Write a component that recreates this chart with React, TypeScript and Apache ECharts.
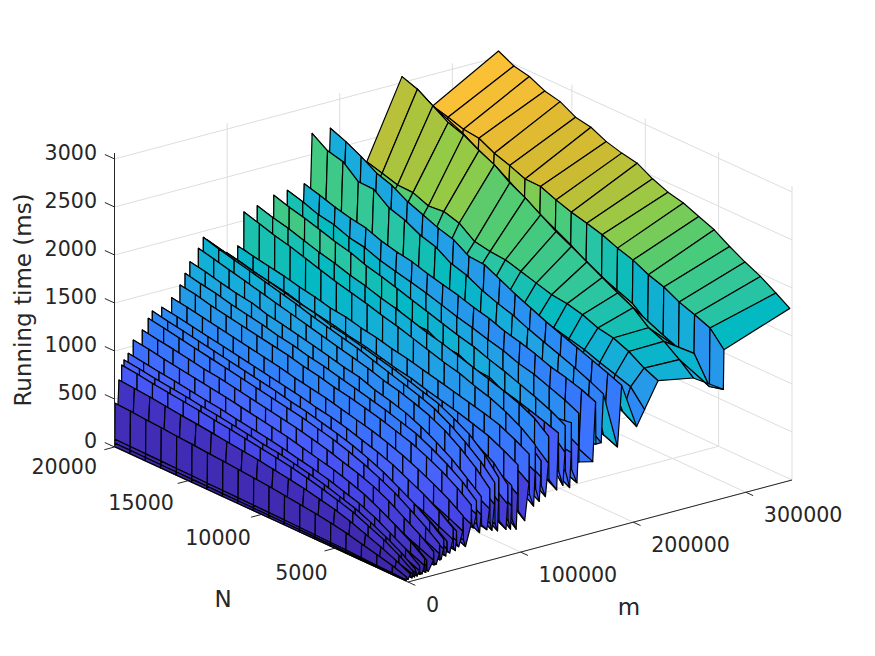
import React, { useEffect, useRef } from "react";
import * as echarts from "echarts";

const M_MAX = 341000;
const N_MAX = 20000;
const Z_MAX = 3062;

const mTicks = [0, 100000, 200000, 300000];
const nTicks = [5000, 10000, 15000, 20000];
const zTicks = [0, 500, 1000, 1500, 2000, 2500, 3000];

const nValues = [20000, 18950, 17900, 16850, 15800, 14750, 13700, 12650, 11600, 10550, 9500, 8450, 7400, 6350, 5300, 4250, 3200, 2150, 1100, 150];

// Each row: m, then the running time (ms) at every value of nValues.
const surfaceRows: number[][] = [
  [341000, 3062, 2980, 2944, 2868, 2830, 2742, 2711, 2635, 2589, 2558, 2469, 2404, 2365, 2298, 2233, 2133, 2045, 1969, 1870, 1777],
  [282500, 2672, 2628, 2577, 2557, 2475, 2420, 2354, 2349, 2284, 2230, 2188, 2142, 2077, 2026, 1947, 1893, 1810, 1752, 1688, 1528],
  [282000, 2670, 2585, 2535, 2437, 2355, 2253, 2154, 2054, 1954, 1890, 1788, 1692, 1627, 1576, 1447, 1393, 1330, 1352, 1080, 1118],
  [255300, 3062, 3005, 2905, 2805, 2750, 2660, 2586, 2473, 2390, 2287, 2187, 2105, 2017, 1930, 1842, 1762, 1628, 1560, 1443, 1319],
  [224000, 2274, 2227, 2179, 2173, 2108, 2123, 2076, 1958, 1928, 1915, 1868, 1821, 1773, 1753, 1713, 1648, 1618, 1552, 1453, 1388],
  [212000, 2050, 2000, 1960, 1930, 1890, 1850, 1810, 1770, 1740, 1700, 1660, 1620, 1580, 1540, 1500, 1460, 1400, 1350, 1295, 1125],
  [205000, 1700, 1680, 1640, 1610, 1580, 1540, 1520, 1480, 1450, 1420, 1390, 1350, 1320, 1290, 1240, 1210, 1170, 1120, 1060, 970],
  [191700, 2723, 2657, 2575, 2476, 2421, 2328, 2264, 2199, 2151, 2051, 2039, 1960, 1880, 1810, 1740, 1680, 1620, 1560, 1500, 1440],
  [188000, 1350, 1330, 1320, 1290, 1270, 1260, 1230, 1210, 1190, 1160, 1140, 1110, 1080, 1050, 1020, 990, 950, 910, 870, 810],
  [175500, 2720, 2612, 2572, 2437, 2432, 2311, 2260, 2178, 2130, 2031, 1983, 1901, 1840, 1790, 1720, 1660, 1600, 1540, 1470, 1400],
  [173500, 1890, 1860, 1830, 1790, 1770, 1710, 1690, 1640, 1600, 1550, 1510, 1450, 1400, 1340, 1280, 1220, 1160, 1100, 1000, 900],
  [168800, 1480, 1450, 1440, 1400, 1380, 1340, 1330, 1300, 1260, 1220, 1200, 1160, 1120, 1080, 1040, 1000, 950, 900, 860, 900],
  [168500, 2216, 2170, 2120, 2080, 2050, 1990, 1950, 1920, 1870, 1830, 1790, 1740, 1700, 1640, 1600, 1550, 1490, 1450, 1400, 1340],
  [166000, 1410, 1390, 1370, 1350, 1310, 1280, 1270, 1230, 1200, 1160, 1140, 1110, 1060, 1020, 980, 940, 890, 840, 790, 726],
  [153800, 1230, 1210, 1190, 1160, 1140, 1110, 1090, 1060, 1030, 1000, 970, 940, 900, 870, 840, 800, 760, 720, 680, 760],
  [153500, 2195, 2150, 2090, 2060, 2000, 1970, 1910, 1870, 1830, 1790, 1740, 1690, 1650, 1600, 1560, 1500, 1460, 1400, 1340, 1270],
  [152000, 1250, 1230, 1200, 1180, 1150, 1120, 1100, 1060, 1030, 990, 960, 920, 880, 840, 800, 750, 700, 650, 610, 550],
  [147300, 1320, 1300, 1270, 1250, 1220, 1190, 1160, 1130, 1090, 1060, 1020, 980, 950, 900, 860, 820, 770, 720, 690, 700],
  [147000, 1960, 1925, 1880, 1850, 1790, 1770, 1710, 1690, 1630, 1600, 1540, 1510, 1450, 1420, 1360, 1320, 1260, 1210, 1170, 1190],
  [145500, 1240, 1220, 1190, 1170, 1130, 1110, 1080, 1050, 1010, 980, 950, 910, 870, 830, 780, 740, 690, 640, 600, 520],
  [141800, 1680, 1650, 1620, 1590, 1550, 1520, 1490, 1450, 1410, 1370, 1340, 1290, 1250, 1210, 1160, 1100, 1030, 930, 820, 700],
  [141500, 2182, 2130, 2090, 2040, 1990, 1950, 1890, 1850, 1800, 1750, 1700, 1650, 1600, 1560, 1500, 1450, 1390, 1330, 1260, 1180],
  [139500, 1620, 1590, 1560, 1530, 1500, 1470, 1430, 1400, 1360, 1330, 1290, 1250, 1210, 1170, 1120, 1070, 1000, 900, 760, 560],
  [135800, 1370, 1350, 1320, 1300, 1270, 1250, 1210, 1180, 1150, 1120, 1080, 1040, 1000, 960, 920, 860, 800, 740, 680, 720],
  [135500, 1900, 1860, 1830, 1780, 1750, 1710, 1680, 1640, 1590, 1560, 1510, 1480, 1430, 1400, 1350, 1310, 1270, 1220, 1170, 1120],
  [134000, 1300, 1280, 1260, 1230, 1210, 1180, 1150, 1120, 1090, 1060, 1030, 990, 950, 910, 870, 820, 760, 700, 620, 531],
  [127100, 1320, 1300, 1270, 1240, 1220, 1180, 1160, 1120, 1090, 1060, 1020, 980, 940, 900, 850, 810, 760, 700, 640, 660],
  [126800, 2118, 2070, 2030, 1980, 1930, 1890, 1840, 1800, 1750, 1710, 1660, 1610, 1570, 1520, 1470, 1420, 1370, 1310, 1230, 1110],
  [124000, 1400, 1370, 1340, 1300, 1270, 1240, 1210, 1170, 1130, 1100, 1060, 1020, 980, 930, 880, 830, 770, 690, 600, 493],
  [120300, 1450, 1420, 1390, 1360, 1320, 1290, 1260, 1220, 1180, 1150, 1110, 1070, 1020, 970, 920, 870, 800, 720, 620, 620],
  [120000, 1880, 1845, 1800, 1770, 1715, 1690, 1630, 1610, 1550, 1520, 1470, 1440, 1380, 1350, 1290, 1250, 1180, 1110, 1010, 880],
  [118500, 1320, 1300, 1260, 1240, 1200, 1180, 1140, 1110, 1070, 1040, 1000, 960, 920, 870, 820, 770, 710, 640, 550, 460],
  [115300, 1380, 1360, 1330, 1290, 1260, 1240, 1200, 1170, 1130, 1090, 1060, 1010, 970, 930, 880, 820, 750, 680, 590, 600],
  [115000, 2090, 2040, 1990, 1950, 1900, 1850, 1800, 1760, 1720, 1670, 1630, 1580, 1530, 1480, 1440, 1380, 1330, 1260, 1170, 1060],
  [113500, 1300, 1280, 1250, 1220, 1190, 1170, 1130, 1100, 1070, 1030, 1000, 950, 910, 870, 820, 770, 700, 630, 540, 426],
  [109800, 1180, 1170, 1140, 1120, 1090, 1060, 1030, 1010, 980, 950, 910, 870, 840, 800, 750, 700, 640, 570, 470, 560],
  [109500, 1753, 1720, 1690, 1660, 1620, 1590, 1550, 1530, 1490, 1460, 1420, 1390, 1350, 1310, 1270, 1230, 1190, 1140, 1060, 980],
  [105600, 1250, 1230, 1200, 1180, 1150, 1120, 1090, 1060, 1030, 990, 960, 920, 880, 830, 780, 720, 640, 540, 420, 300],
  [99800, 1300, 1280, 1260, 1220, 1200, 1160, 1140, 1100, 1070, 1030, 1000, 950, 910, 870, 820, 760, 680, 580, 450, 420],
  [99500, 1716, 1680, 1640, 1610, 1580, 1530, 1500, 1470, 1430, 1400, 1360, 1320, 1290, 1240, 1200, 1160, 1110, 1060, 980, 900],
  [98000, 1180, 1165, 1140, 1120, 1090, 1060, 1040, 1000, 980, 940, 910, 870, 830, 790, 740, 680, 600, 500, 370, 234],
  [94300, 1230, 1210, 1190, 1160, 1130, 1110, 1080, 1050, 1010, 980, 950, 900, 860, 810, 760, 710, 640, 540, 420, 350],
  [94000, 1590, 1560, 1520, 1490, 1470, 1420, 1390, 1370, 1320, 1300, 1250, 1220, 1170, 1130, 1090, 1030, 970, 890, 780, 700],
  [93000, 1120, 1100, 1080, 1060, 1030, 1000, 980, 950, 920, 890, 860, 820, 790, 740, 700, 640, 570, 480, 370, 250],
  [90800, 1150, 1130, 1110, 1090, 1060, 1030, 1000, 980, 940, 910, 880, 840, 800, 750, 700, 650, 580, 490, 390, 350],
  [90500, 1680, 1640, 1610, 1570, 1540, 1500, 1470, 1430, 1400, 1360, 1320, 1290, 1250, 1200, 1160, 1110, 1050, 980, 880, 720],
  [89000, 1080, 1060, 1040, 1020, 990, 970, 940, 910, 880, 850, 820, 780, 740, 700, 650, 590, 520, 430, 340, 260],
  [82800, 1180, 1160, 1130, 1110, 1080, 1060, 1020, 1000, 960, 940, 900, 870, 820, 780, 730, 670, 590, 500, 400, 370],
  [82500, 1900, 1860, 1830, 1790, 1760, 1720, 1680, 1650, 1600, 1570, 1530, 1490, 1450, 1400, 1350, 1300, 1220, 1130, 990, 820],
  [81500, 1120, 1100, 1080, 1050, 1030, 1000, 970, 950, 920, 890, 860, 820, 780, 740, 690, 630, 550, 460, 360, 269],
  [79200, 1090, 1075, 1050, 1030, 1010, 980, 960, 930, 900, 870, 840, 800, 770, 730, 680, 620, 550, 470, 390, 350],
  [78900, 1938, 1890, 1850, 1810, 1770, 1730, 1690, 1640, 1600, 1560, 1520, 1470, 1420, 1370, 1320, 1260, 1170, 1060, 930, 780],
  [76500, 1040, 1020, 1000, 980, 960, 940, 910, 880, 860, 830, 790, 760, 720, 690, 640, 590, 530, 460, 380, 290],
  [74800, 980, 965, 950, 920, 905, 880, 860, 840, 800, 780, 745, 720, 690, 650, 620, 570, 510, 460, 400, 370],
  [74500, 1838, 1800, 1760, 1720, 1680, 1640, 1600, 1560, 1520, 1480, 1440, 1400, 1350, 1310, 1260, 1200, 1120, 1010, 880, 730],
  [72000, 960, 945, 925, 900, 890, 865, 840, 820, 790, 760, 730, 700, 670, 630, 590, 550, 490, 430, 370, 310],
  [67300, 980, 960, 940, 920, 900, 880, 860, 830, 810, 780, 750, 710, 680, 640, 600, 560, 500, 440, 380, 360],
  [67000, 1720, 1690, 1650, 1615, 1590, 1540, 1510, 1475, 1440, 1400, 1360, 1330, 1270, 1230, 1180, 1110, 1020, 920, 790, 670],
  [65500, 900, 885, 870, 850, 830, 810, 790, 765, 740, 710, 680, 650, 620, 590, 550, 510, 470, 420, 370, 300],
  [63000, 920, 900, 885, 870, 850, 825, 800, 780, 760, 730, 700, 675, 640, 610, 580, 540, 500, 450, 410, 400],
  [62700, 1613, 1580, 1550, 1510, 1480, 1450, 1410, 1380, 1340, 1310, 1270, 1230, 1190, 1150, 1100, 1050, 970, 880, 770, 640],
  [60000, 900, 885, 865, 850, 830, 805, 785, 760, 740, 715, 685, 660, 625, 600, 560, 525, 480, 430, 390, 365],
  [58500, 850, 835, 820, 800, 780, 760, 740, 720, 695, 670, 650, 620, 590, 560, 520, 490, 450, 420, 400, 420],
  [58200, 1506, 1480, 1440, 1410, 1380, 1350, 1320, 1290, 1250, 1220, 1180, 1150, 1110, 1070, 1020, 970, 900, 820, 720, 610],
  [53000, 820, 805, 790, 770, 750, 730, 710, 690, 670, 640, 620, 590, 560, 530, 490, 440, 380, 320, 260, 194],
  [51100, 760, 745, 730, 710, 690, 670, 650, 630, 610, 585, 560, 540, 510, 480, 450, 410, 360, 320, 280, 270],
  [50800, 1397, 1370, 1340, 1310, 1280, 1250, 1220, 1190, 1150, 1120, 1090, 1050, 1010, 970, 920, 860, 790, 710, 620, 520],
  [47000, 730, 715, 700, 680, 670, 645, 625, 610, 590, 565, 540, 520, 495, 460, 420, 380, 330, 280, 240, 210],
  [45300, 700, 690, 675, 655, 640, 620, 600, 585, 565, 540, 520, 495, 470, 440, 400, 365, 320, 285, 260, 240],
  [45000, 1260, 1240, 1200, 1175, 1150, 1110, 1090, 1060, 1020, 995, 960, 930, 880, 845, 790, 740, 660, 580, 480, 380],
  [44000, 680, 665, 650, 635, 615, 600, 580, 560, 545, 520, 500, 475, 450, 420, 380, 340, 300, 250, 210, 180],
  [42300, 660, 650, 630, 615, 600, 580, 565, 545, 530, 505, 485, 465, 440, 410, 380, 340, 300, 260, 220, 220],
  [42000, 1325, 1300, 1270, 1240, 1210, 1180, 1150, 1120, 1090, 1060, 1020, 990, 950, 900, 850, 790, 710, 630, 530, 420],
  [39000, 640, 630, 615, 600, 585, 570, 550, 530, 515, 490, 470, 445, 420, 390, 355, 320, 280, 235, 200, 170],
  [36800, 610, 600, 590, 570, 555, 540, 525, 505, 490, 470, 450, 430, 400, 370, 340, 310, 270, 240, 210, 190],
  [36500, 1180, 1160, 1125, 1100, 1080, 1040, 1020, 990, 960, 935, 900, 870, 830, 780, 730, 670, 590, 510, 410, 300],
  [35500, 590, 580, 565, 550, 535, 520, 505, 490, 470, 450, 430, 410, 385, 355, 320, 290, 255, 220, 185, 150],
  [33900, 560, 550, 540, 525, 510, 495, 480, 465, 445, 430, 410, 385, 360, 340, 310, 280, 245, 210, 180, 165],
  [33600, 1312, 1280, 1250, 1220, 1190, 1160, 1130, 1100, 1070, 1030, 1000, 960, 920, 870, 810, 740, 650, 560, 450, 330],
  [31500, 520, 510, 495, 485, 470, 455, 440, 425, 410, 390, 375, 355, 330, 310, 285, 260, 230, 195, 160, 130],
  [30300, 500, 490, 480, 465, 450, 440, 425, 410, 395, 375, 355, 335, 310, 285, 260, 235, 205, 170, 135, 125],
  [30000, 1247, 1220, 1190, 1160, 1130, 1100, 1070, 1040, 1010, 980, 950, 910, 870, 820, 760, 690, 610, 510, 400, 290],
  [27000, 470, 460, 450, 435, 420, 410, 395, 380, 365, 350, 330, 310, 290, 265, 240, 215, 190, 160, 120, 90],
  [25000, 430, 420, 410, 395, 380, 370, 355, 345, 325, 310, 290, 270, 250, 225, 205, 180, 155, 125, 95, 90],
  [24700, 1142, 1115, 1090, 1060, 1030, 1010, 980, 950, 920, 890, 860, 820, 780, 730, 680, 620, 540, 440, 340, 230],
  [20000, 380, 370, 360, 350, 335, 325, 310, 300, 285, 270, 255, 240, 220, 200, 180, 150, 125, 100, 70, 40],
  [18800, 360, 355, 345, 335, 320, 310, 295, 285, 270, 255, 240, 225, 205, 185, 165, 140, 115, 90, 65, 50],
  [18500, 1010, 990, 955, 935, 905, 885, 855, 835, 800, 775, 745, 715, 665, 630, 580, 525, 445, 360, 270, 160],
  [17800, 330, 325, 310, 300, 290, 280, 270, 255, 245, 230, 215, 200, 185, 165, 145, 125, 105, 80, 55, 35],
  [17000, 310, 305, 295, 285, 275, 265, 255, 245, 230, 220, 205, 190, 175, 155, 140, 120, 100, 80, 55, 40],
  [16700, 1062, 1040, 1010, 985, 960, 935, 910, 880, 850, 820, 790, 750, 710, 670, 620, 560, 480, 390, 290, 180],
  [14500, 300, 295, 285, 275, 265, 255, 245, 235, 225, 210, 200, 185, 170, 150, 135, 115, 95, 75, 50, 30],
  [12500, 260, 255, 245, 240, 230, 220, 210, 205, 195, 185, 175, 160, 150, 130, 115, 100, 85, 65, 45, 30],
  [12200, 938, 915, 890, 870, 845, 820, 800, 770, 745, 720, 690, 655, 620, 580, 530, 480, 410, 320, 230, 120],
  [10000, 250, 245, 235, 230, 220, 210, 200, 195, 185, 175, 165, 150, 140, 125, 110, 95, 80, 60, 40, 20],
  [8500, 880, 860, 835, 815, 795, 770, 750, 725, 700, 670, 650, 615, 580, 540, 490, 440, 370, 290, 200, 95],
  [7800, 215, 210, 205, 195, 190, 180, 175, 165, 160, 150, 140, 130, 120, 105, 95, 80, 65, 50, 35, 18],
  [6400, 833, 815, 790, 770, 750, 730, 705, 685, 660, 635, 610, 580, 545, 505, 460, 410, 340, 270, 180, 80],
  [5500, 190, 185, 180, 175, 170, 160, 155, 150, 140, 135, 125, 115, 105, 95, 85, 70, 55, 45, 30, 15],
  [4000, 685, 670, 655, 635, 615, 600, 580, 560, 540, 520, 495, 470, 440, 405, 370, 320, 260, 200, 130, 60],
  [2000, 150, 145, 140, 135, 130, 125, 120, 115, 110, 105, 95, 90, 80, 75, 65, 55, 45, 35, 20, 10],
  [500, 455, 445, 430, 420, 405, 395, 380, 370, 355, 340, 325, 305, 285, 265, 240, 210, 170, 130, 90, 40],
  [300, 80, 78, 75, 73, 70, 68, 65, 62, 60, 57, 54, 50, 46, 42, 38, 33, 27, 20, 14, 8],
  [100, 40, 39, 38, 37, 35, 34, 33, 31, 30, 28, 27, 25, 23, 21, 19, 16, 13, 10, 7, 5],
  [0, 6, 6, 5, 5, 5, 5, 5, 4, 4, 4, 4, 4, 3, 3, 3, 3, 3, 2, 2, 2],
];

const shelfRows: number[][] = [
  [153350, 1690, 1620, 1600, 1540, 1550, 1470, 1480, 1410, 1400, 1350, 1350, 1260, 1270, 1190, 1190, 1120, 1100, 1030, 1010, 930],
  [146850, 1620, 1580, 1510, 1530, 1440, 1460, 1380, 1380, 1300, 1320, 1230, 1230, 1150, 1150, 1060, 1060, 960, 950, 900, 880],
  [141350, 1900, 1840, 1850, 1760, 1760, 1690, 1670, 1600, 1590, 1510, 1510, 1420, 1410, 1330, 1320, 1230, 1200, 1110, 1040, 900],
  [126650, 1770, 1700, 1720, 1620, 1620, 1540, 1550, 1450, 1470, 1370, 1390, 1290, 1300, 1200, 1210, 1110, 1090, 990, 960, 830],
  [119850, 1590, 1570, 1510, 1520, 1440, 1470, 1370, 1400, 1290, 1320, 1220, 1240, 1130, 1160, 1040, 1060, 940, 930, 800, 710],
  [114850, 1700, 1640, 1620, 1590, 1530, 1530, 1440, 1470, 1370, 1380, 1300, 1300, 1190, 1210, 1110, 1110, 1000, 980, 860, 780],
  [109350, 1510, 1460, 1470, 1400, 1400, 1330, 1340, 1280, 1260, 1220, 1190, 1170, 1110, 1090, 1030, 1010, 920, 880, 780, 680],
  [99350, 1480, 1460, 1400, 1400, 1340, 1330, 1260, 1270, 1190, 1200, 1120, 1130, 1040, 1050, 950, 960, 860, 800, 690, 590],
  [93850, 1350, 1340, 1290, 1290, 1240, 1230, 1170, 1180, 1100, 1110, 1040, 1040, 970, 960, 880, 860, 780, 710, 590, 490],
  [90350, 1420, 1350, 1360, 1280, 1300, 1220, 1240, 1150, 1170, 1080, 1100, 1010, 1030, 930, 940, 850, 830, 720, 630, 520],
  [82350, 1520, 1480, 1440, 1420, 1370, 1370, 1300, 1320, 1230, 1250, 1170, 1190, 1090, 1090, 1010, 1000, 900, 830, 700, 570],
  [78750, 1490, 1420, 1440, 1350, 1380, 1290, 1310, 1230, 1240, 1150, 1170, 1090, 1100, 1000, 1010, 910, 880, 760, 670, 550],
  [74350, 1420, 1390, 1340, 1330, 1270, 1280, 1200, 1220, 1140, 1150, 1060, 1080, 980, 1000, 900, 900, 790, 730, 600, 520],
  [66850, 1340, 1300, 1280, 1230, 1230, 1160, 1180, 1110, 1120, 1040, 1060, 970, 990, 890, 910, 800, 760, 660, 570, 480],
  [62550, 1270, 1210, 1220, 1140, 1170, 1090, 1100, 1030, 1050, 970, 990, 910, 910, 840, 830, 760, 710, 630, 570, 500],
  [58050, 1170, 1140, 1110, 1090, 1060, 1040, 1010, 990, 950, 930, 890, 870, 830, 790, 750, 710, 640, 570, 480, 410],
  [50650, 1090, 1040, 1040, 970, 990, 920, 950, 880, 890, 820, 840, 770, 770, 700, 690, 620, 570, 500, 430, 360],
  [44850, 980, 960, 920, 920, 880, 860, 830, 820, 780, 770, 730, 710, 670, 640, 590, 550, 490, 420, 350, 280],
  [41850, 1000, 990, 950, 930, 900, 900, 840, 850, 800, 790, 740, 740, 680, 670, 600, 580, 510, 450, 370, 300],
  [36350, 900, 860, 860, 810, 820, 770, 780, 720, 730, 680, 680, 630, 620, 560, 540, 480, 430, 360, 300, 220],
  [33450, 930, 930, 870, 870, 820, 820, 770, 770, 720, 720, 680, 660, 620, 590, 540, 510, 430, 380, 300, 230],
  [29850, 880, 850, 830, 800, 790, 740, 750, 700, 700, 650, 650, 600, 590, 530, 500, 450, 390, 330, 260, 190],
  [24550, 790, 760, 750, 700, 710, 650, 670, 610, 620, 570, 580, 520, 510, 460, 430, 390, 330, 270, 200, 140],
  [18350, 700, 660, 660, 610, 620, 570, 580, 530, 540, 490, 500, 440, 430, 380, 360, 320, 270, 210, 150, 100],
  [16550, 700, 690, 650, 650, 600, 610, 560, 570, 520, 530, 480, 480, 430, 420, 370, 350, 280, 240, 170, 110],
  [12050, 620, 610, 570, 580, 530, 530, 490, 490, 450, 450, 410, 400, 360, 350, 300, 280, 230, 190, 130, 70],
  [8350, 560, 570, 520, 530, 490, 490, 450, 460, 410, 420, 370, 380, 330, 330, 280, 260, 210, 170, 110, 60],
  [6250, 520, 500, 490, 460, 460, 430, 430, 400, 390, 370, 350, 330, 310, 290, 260, 230, 190, 150, 100, 50],
];

const allRows = [...surfaceRows, ...shelfRows].sort((a, b) => b[0] - a[0]);
const mValues = allRows.map((row) => row[0]);
const runningTime = allRows.map((row) => row.slice(1));

// Parula colour map stops (position 0..1, r, g, b)
const parula: number[][] = [
  [0, 62, 38, 168],
  [0.0635, 69, 55, 203],
  [0.127, 71, 71, 235],
  [0.19, 71, 99, 252],
  [0.254, 56, 117, 254],
  [0.317, 45, 135, 247],
  [0.381, 37, 155, 232],
  [0.444, 24, 172, 219],
  [0.508, 2, 186, 195],
  [0.571, 44, 197, 161],
  [0.635, 74, 203, 120],
  [0.698, 143, 203, 72],
  [0.762, 204, 187, 50],
  [0.825, 232, 187, 50],
  [0.889, 254, 195, 56],
  [0.952, 248, 222, 38],
  [1, 249, 251, 21],
];

const TEXT = "#262626";
const GRID = "#dddddd";
const FONT = "DejaVu Sans";

function project(m: number, N: number, z: number): number[] {
  return [
    408 + (m / M_MAX) * 384 - (N / N_MAX) * 293.5,
    582 - (m / M_MAX) * 102 - (N / N_MAX) * 135 - (z / Z_MAX) * 294,
  ];
}

function colorOf(z: number): string {
  const t = Math.max(0, Math.min(1, z / 3000));
  for (let i = 1; i < parula.length; i++) {
    if (t <= parula[i][0]) {
      const a = parula[i - 1];
      const b = parula[i];
      const f = (t - a[0]) / (b[0] - a[0]);
      const c = [1, 2, 3].map((j) => Math.round(a[j] + (b[j] - a[j]) * f));
      return `rgb(${c[0]},${c[1]},${c[2]})`;
    }
  }
  return "rgb(249,251,21)";
}

type Seg = [number, number, number, number, number, number];
const gridSegs: Seg[] = [];
zTicks.forEach((z) => {
  gridSegs.push([0, N_MAX, z, M_MAX, N_MAX, z]);
  gridSegs.push([M_MAX, N_MAX, z, M_MAX, 0, z]);
});
mTicks.forEach((m) => {
  gridSegs.push([m, 0, 0, m, N_MAX, 0]);
  gridSegs.push([m, N_MAX, 0, m, N_MAX, Z_MAX]);
});
[0, ...nTicks].forEach((n) => {
  gridSegs.push([0, n, 0, M_MAX, n, 0]);
  gridSegs.push([M_MAX, n, 0, M_MAX, n, Z_MAX]);
});

const zAxisSegs: Seg[] = [[0, N_MAX, 0, 0, N_MAX, Z_MAX]];
zTicks.forEach((z) => zAxisSegs.push([0, N_MAX, z, 0, N_MAX + 660, z]));
const floorAxisSegs: Seg[] = [
  [0, 0, 0, 0, N_MAX, 0],
  [0, 0, 0, M_MAX, 0, 0],
];
nTicks.forEach((n) => floorAxisSegs.push([0, n, 0, -9000, n, 0]));
mTicks.forEach((m) => floorAxisSegs.push([m, 0, 0, m, -500, 0]));

const quads: number[][] = [];
for (let r = 0; r < mValues.length - 1; r++) {
  for (let k = 0; k < nValues.length - 1; k++) quads.push([r, k]);
}

function segmentSeries(data: Seg[], color: string, width: number, z: number) {
  return {
    type: "custom",
    coordinateSystem: "cartesian2d",
    silent: true,
    clip: false,
    z,
    data,
    renderItem: (_p: any, api: any) => {
      const a = api.coord(project(api.value(0), api.value(1), api.value(2)));
      const b = api.coord(project(api.value(3), api.value(4), api.value(5)));
      return {
        type: "line",
        shape: { x1: a[0], y1: a[1], x2: b[0], y2: b[1] },
        style: { stroke: color, lineWidth: width, fill: "none" },
      };
    },
  };
}

function tickText(text: string, x: number, y: number, align: string) {
  return {
    type: "text",
    x,
    y,
    silent: true,
    style: { text, fontFamily: FONT, fontSize: 20.6, fill: TEXT, align, verticalAlign: "middle" },
  };
}

function labelGraphics() {
  const out: any[] = [];
  zTicks.forEach((z) => {
    const p = project(0, N_MAX, z);
    out.push(tickText(String(z), 97, p[1] - 6, "right"));
  });
  nTicks.forEach((n) => {
    const p = project(0, n, 0);
    out.push(tickText(String(n), p[0] - 3.5 - n * 0.0007, p[1] + 18.5 + n * 0.00009 + (20000 - n) * 0.0004, "right"));
  });
  mTicks.forEach((m) => {
    const p = project(m, 0, 0);
    out.push(tickText(String(m), p[0] + 18, p[1] + 23, "left"));
  });
  const name = (text: string, x: number, y: number, rotation = 0) => ({
    type: "text",
    x,
    y,
    rotation,
    silent: true,
    style: { text, fontFamily: FONT, fontSize: 23, fill: TEXT, align: "center", verticalAlign: "middle" },
  });
  out.push(name("m", 629, 607));
  out.push(name("N", 223, 599));
  out.push(name("Running time (ms)", 23, 300, Math.PI / 2));
  return out;
}

export default function App() {
  const ref = useRef<HTMLDivElement>(null);
  useEffect(() => {
    const chart = echarts.init(ref.current!, undefined, { renderer: "svg" });
    chart.setOption({
      animation: false,
      backgroundColor: "#ffffff",
      grid: { left: 0, right: 0, top: 0, bottom: 0 },
      xAxis: { type: "value", min: 0, max: 875, show: false },
      yAxis: { type: "value", min: 0, max: 656, inverse: true, show: false },
      graphic: labelGraphics(),
      series: [
        segmentSeries(gridSegs, GRID, 1, 1),
        segmentSeries(floorAxisSegs, TEXT, 1, 1.5),
        {
          type: "custom",
          coordinateSystem: "cartesian2d",
          silent: true,
          clip: false,
          z: 2,
          data: quads,
          renderItem: (_p: any, api: any) => {
            const r = api.value(0);
            const k = api.value(1);
            const corners = [
              [r, k],
              [r, k + 1],
              [r + 1, k + 1],
              [r + 1, k],
            ];
            const points = corners.map(([a, b]) =>
              api.coord(project(mValues[a], nValues[b], runningTime[a][b]))
            );
            return {
              type: "polygon",
              shape: { points },
              style: {
                fill: colorOf(runningTime[r + 1][k + 1]),
                stroke: "#000000",
                lineWidth: 1.2,
                lineJoin: "round",
              },
            };
          },
        },
        segmentSeries(zAxisSegs, TEXT, 1, 3),
      ],
    });
    return () => chart.dispose();
  }, []);
  return <div ref={ref} style={{ position: "absolute", left: 0, top: 0, width: 875, height: 656 }} />;
}
